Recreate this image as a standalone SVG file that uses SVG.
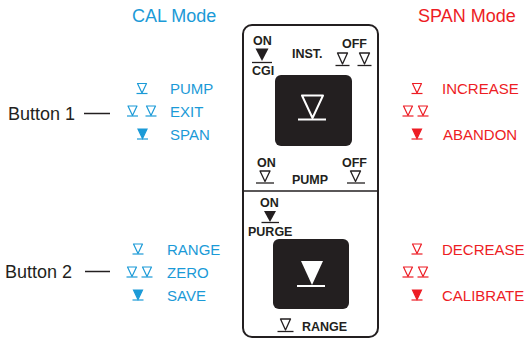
<svg xmlns="http://www.w3.org/2000/svg" width="529" height="339" viewBox="0 0 529 339">
<style>
.t{font-family:"Liberation Sans",Arial,sans-serif}
.big{font-size:18px;fill:#231f20}
.blue{fill:#1b9ad7;font-size:15px}
.red{fill:#ed1c24;font-size:15px}
.pl{font-size:12.5px;font-weight:bold;fill:#231f20}
.sb{stroke:#1b9ad7;fill:none;stroke-width:1.2}
.fb{fill:#1b9ad7;stroke:#1b9ad7;stroke-width:1.2}
.sr{stroke:#ed1c24;fill:none;stroke-width:1.2}
.fr{fill:#ed1c24;stroke:#ed1c24;stroke-width:1.2}
.sk{stroke:#231f20;fill:none;stroke-width:1.3}
.fk{fill:#231f20;stroke:#231f20;stroke-width:1.3}
</style>
<defs>
<g id="to"><path d="M-4.5,-5 L4.5,-5 L0,4.5 Z" stroke-linejoin="round"/><path d="M-5.5,5 H5.5" fill="none"/></g>
<g id="tf"><path d="M-4.5,-5 L4.5,-5 L0,4.5 Z"/><path d="M-5.5,5 H5.5" fill="none"/></g>
</defs>
<g id="headers" class="t">
<text x="132" y="22" style="font-size:18px;fill:#1b9ad7">CAL Mode</text>
<text x="418" y="22" style="font-size:18px;fill:#ed1c24">SPAN Mode</text>
</g>
<g id="button1">
<text class="t big" x="8" y="120">Button 1</text>
</g>
<g id="button2">
<text class="t big" x="5" y="278">Button 2</text>
</g>
<g id="cal1">
<use href="#to" class="sb" x="142" y="88.5"/>
<text class="t blue" x="170" y="94">PUMP</text>
<use href="#to" class="sb" x="132.5" y="111"/>
<use href="#to" class="sb" x="151" y="111"/>
<text class="t blue" x="170" y="117">EXIT</text>
<use href="#tf" class="fb" x="142.5" y="134"/>
<text class="t blue" x="170" y="139.5">SPAN</text>
</g>
<g id="cal2">
<use href="#to" class="sb" x="138" y="249"/>
<text class="t blue" x="167" y="255">RANGE</text>
<use href="#to" class="sb" x="132" y="272"/>
<use href="#to" class="sb" x="147" y="272"/>
<text class="t blue" x="167" y="278">ZERO</text>
<use href="#tf" class="fb" x="138" y="295"/>
<text class="t blue" x="167" y="301">SAVE</text>
</g>
<g id="span1">
<use href="#to" class="sr" x="417" y="88.5"/>
<text class="t red" x="442" y="94">INCREASE</text>
<use href="#to" class="sr" x="408" y="111"/>
<use href="#to" class="sr" x="423" y="111"/>
<use href="#tf" class="fr" x="417" y="134"/>
<text class="t red" x="443" y="139.5">ABANDON</text>
</g>
<g id="span2">
<use href="#to" class="sr" x="417" y="249"/>
<text class="t red" x="442" y="255">DECREASE</text>
<use href="#to" class="sr" x="408" y="272"/>
<use href="#to" class="sr" x="423" y="272"/>
<use href="#tf" class="fr" x="417" y="295"/>
<text class="t red" x="442" y="301">CALIBRATE</text>
</g>
<g id="panel">
<rect x="243" y="25" width="135" height="312" rx="9" fill="#fff" stroke="#231f20" stroke-width="2"/>
<path d="M244,191 H377" stroke="#231f20" stroke-width="1.5"/>
</g>
<g id="inst" class="t">
<text class="pl" x="253" y="45">ON</text>
<path d="M255.5,48.5 L268.5,48.5 L262,61 Z" fill="#231f20"/>
<path d="M252,62.5 H272" class="sk"/>
<text class="pl" x="252" y="75">CGI</text>
<text class="pl" x="292" y="58">INST.</text>
<text class="pl" x="342" y="48">OFF</text>
<path d="M337.5,53 L347.5,53 L342.5,64 Z" class="sk" stroke-linejoin="round"/>
<path d="M335.5,65.5 H349.5" class="sk"/>
<path d="M359.5,53 L369.5,53 L364.5,64 Z" class="sk" stroke-linejoin="round"/>
<path d="M357.5,65.5 H371.5" class="sk"/>
<rect x="275" y="75" width="77" height="71" rx="6" fill="#231f20"/>
<path d="M302,95.5 L323,95.5 L312.5,118 Z" fill="none" stroke="#fff" stroke-width="2" stroke-linejoin="round"/>
<path d="M298,119.5 H326" stroke="#fff" stroke-width="2"/>
<text class="pl" x="257" y="167">ON</text>
<path d="M260,171 L270,171 L265,181.5 Z" class="sk" stroke-linejoin="round"/>
<path d="M256,183 H274" class="sk"/>
<text class="pl" x="292" y="184">PUMP</text>
<text class="pl" x="342" y="167">OFF</text>
<path d="M350.5,171 L360.5,171 L355.5,181.5 Z" class="sk" stroke-linejoin="round"/>
<path d="M347,183 H365" class="sk"/>
</g>
<g id="purge" class="t">
<text class="pl" x="260" y="207">ON</text>
<path d="M264,211 L276,211 L270,222 Z" fill="#231f20"/>
<path d="M261.5,222.5 H279" class="sk"/>
<text class="pl" x="248" y="236">PURGE</text>
<rect x="273" y="239" width="76" height="70" rx="6" fill="#231f20"/>
<path d="M301,261 L323,261 L312,285 Z" fill="#fff"/>
<path d="M297,286 H325" stroke="#fff" stroke-width="2"/>
<path d="M280.5,319 L290.5,319 L285.5,330 Z" class="sk" stroke-linejoin="round"/>
<path d="M277.5,331.5 H293.5" class="sk"/>
<text class="pl" x="302" y="331">RANGE</text>
</g>
<g id="connectors">
<path d="M84,113.5 H110" stroke="#231f20" stroke-width="1.5"/>
<path d="M85,271.5 H110" stroke="#231f20" stroke-width="1.5"/>
</g>
</svg>
